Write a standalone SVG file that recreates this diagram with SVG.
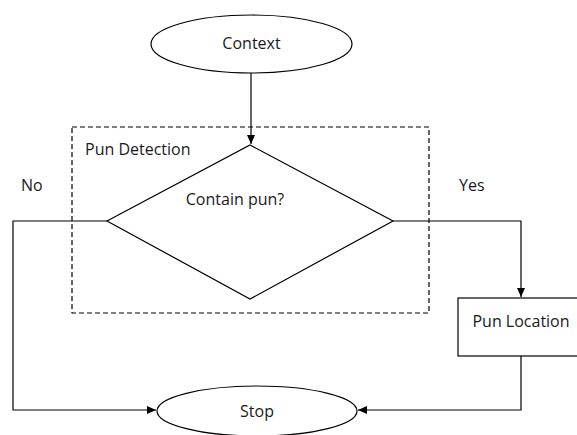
<svg xmlns="http://www.w3.org/2000/svg" width="577" height="435" viewBox="0 0 577 435">
<style>
.s{fill:#fff;stroke:#000;stroke-width:1.2}
.t{font-family:"Open Sans","Liberation Sans",sans-serif;font-size:16px;fill:#1a1a1a}
.c{fill:none;stroke:#000;stroke-width:1.2}
</style>
<defs>
<marker id="a" markerWidth="10" markerHeight="10" refX="9" refY="5" orient="auto" markerUnits="userSpaceOnUse">
<path d="M0,1 L9,5 L0,9 z" fill="#000"/>
</marker>
</defs>
<rect width="577" height="435" fill="#fff"/>
<g id="group-pun-detection">
<rect x="72" y="127" width="357" height="186" fill="none" stroke="#000" stroke-width="1.2" stroke-dasharray="5,3"/>
<text class="t" x="85" y="155">Pun Detection</text>
</g>
<g id="connectors">
<path class="c" d="M251,73 V144" marker-end="url(#a)"/>
<path class="c" d="M107,221 H13 V410 H156" marker-end="url(#a)"/>
<path class="c" d="M393,221 H521 V297" marker-end="url(#a)"/>
<path class="c" d="M521,356 V410 H358" marker-end="url(#a)"/>
<text class="t" x="21" y="191">No</text>
<text class="t" x="459" y="191">Yes</text>
</g>
<g id="context">
<ellipse class="s" cx="251.5" cy="44" rx="100.5" ry="29"/>
<text class="t" x="251.5" y="49" text-anchor="middle">Context</text>
</g>
<g id="contain-pun">
<polygon class="s" points="250,145 393,221 250,299 107,221"/>
<text class="t" x="235" y="205" text-anchor="middle">Contain pun?</text>
</g>
<g id="pun-location">
<rect class="s" x="458" y="298" width="125" height="58"/>
<text class="t" x="521" y="327" text-anchor="middle">Pun Location</text>
</g>
<g id="stop">
<ellipse class="s" cx="257" cy="411" rx="100" ry="25"/>
<text class="t" x="257" y="417" text-anchor="middle">Stop</text>
</g>
</svg>
